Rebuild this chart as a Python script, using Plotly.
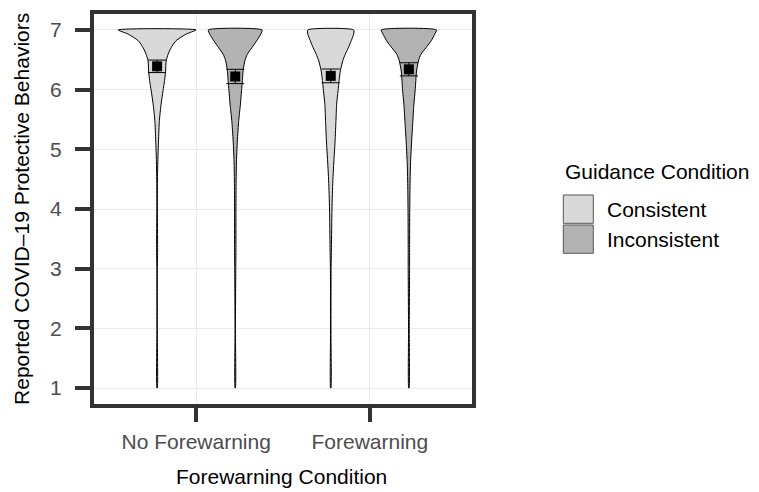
import plotly.graph_objects as go

# ---- data ----
categories = ["No Forewarning", "Forewarning"]
groups = ["Consistent", "Inconsistent"]
group_colors = {"Consistent": "#D9D9D9", "Inconsistent": "#B3B3B3"}
y_ticks = [1, 2, 3, 4, 5, 6, 7]

# density profile levels (response value) and violin half-widths (in category units)
levels = [7.0, 6.93, 6.82, 6.70, 6.59, 6.48, 6.31, 6.15, 5.98, 5.76, 5.48, 5.14,
          4.8, 4.47, 4.0, 3.35, 3.0, 2.0, 1.0]
hw_nofw_consistent = [0.224, 0.167, 0.109, 0.080, 0.063, 0.052, 0.049, 0.043, 0.034,
                      0.023, 0.013, 0.008, 0.004, 0.002, 0.0015, 0.003, 0.0015, 0.001, 0.001]
hw_nofw_inconsistent = [0.155, 0.147, 0.124, 0.095, 0.069, 0.055, 0.045, 0.041, 0.036,
                        0.030, 0.020, 0.012, 0.007, 0.005, 0.004, 0.004, 0.003, 0.001, 0.001]
hw_fw_consistent = [0.132, 0.132, 0.118, 0.101, 0.083, 0.069, 0.055, 0.048, 0.042,
                    0.034, 0.030, 0.025, 0.018, 0.012, 0.007, 0.004, 0.002, 0.001, 0.001]
hw_fw_inconsistent = [0.159, 0.149, 0.129, 0.098, 0.069, 0.055, 0.044, 0.040, 0.036,
                      0.029, 0.023, 0.016, 0.010, 0.007, 0.005, 0.004, 0.004, 0.002, 0.001]

# means and standard errors (order: NoFW-Cons, NoFW-Incons, FW-Cons, FW-Incons)
means = [6.39, 6.22, 6.23, 6.34]
ses = [0.105, 0.12, 0.115, 0.11]

violins = [
    ("No Forewarning", "Consistent", hw_nofw_consistent),
    ("No Forewarning", "Inconsistent", hw_nofw_inconsistent),
    ("Forewarning", "Consistent", hw_fw_consistent),
    ("Forewarning", "Inconsistent", hw_fw_inconsistent),
]

dodge = 0.225
FONT = "Liberation Sans, Arial, Helvetica, sans-serif"


def center_of(cat, grp):
    base = categories.index(cat) + 1
    return base + (-dodge if grp == groups[0] else dodge)


fig = go.Figure()
centers = []
for cat, grp, hw in violins:
    c = center_of(cat, grp)
    centers.append(c)
    xs = [c - w for w in hw] + [c + w for w in reversed(hw)] + [c - hw[0]]
    ys = list(levels) + list(reversed(levels)) + [levels[0]]
    fig.add_trace(go.Scatter(
        x=xs, y=ys, mode="lines", fill="toself",
        fillcolor=group_colors[grp],
        line=dict(color="black", width=1, shape="spline", smoothing=0.6),
        showlegend=False, hoverinfo="skip"))

fig.add_trace(go.Scatter(
    x=centers, y=means, mode="markers",
    marker=dict(symbol="square", size=10, color="black"),
    error_y=dict(type="data", array=ses, color="black", thickness=1, width=9),
    showlegend=False))

fig.update_xaxes(
    range=[0.4, 2.6], tickvals=[1, 2], ticktext=categories, automargin=False,
    ticks="outside", ticklen=15, tickwidth=3.5, tickcolor="#333333",
    ticklabelstandoff=2,
    showgrid=True, gridcolor="#EBEBEB", gridwidth=1, zeroline=False, showline=False,
    tickfont=dict(family=FONT, size=21, color="#4D4D4D"))
fig.update_yaxes(
    range=[0.7, 7.3], tickvals=y_ticks, automargin=False,
    ticks="outside", ticklen=16, tickwidth=3.5, tickcolor="#333333",
    ticklabelstandoff=9,
    showgrid=True, gridcolor="#EBEBEB", gridwidth=1, zeroline=False, showline=False,
    tickfont=dict(family=FONT, size=21, color="#4D4D4D"))

shapes = [dict(type="rect", xref="paper", yref="paper", x0=0, x1=1, y0=0, y1=1,
               line=dict(color="#333333", width=4), layer="above")]
annotations = [
    dict(text="Forewarning Condition", xref="paper", yref="paper", x=0.4948, y=-0.180,
         xanchor="center", yanchor="middle", showarrow=False,
         font=dict(family=FONT, size=21, color="black")),
    dict(text="Reported COVID\u201319 Protective Behaviors", xref="paper", yref="paper",
         x=-0.186, y=0.5, xanchor="center", yanchor="middle", textangle=-90, showarrow=False,
         font=dict(family=FONT, size=21, color="black")),
    dict(text="Guidance Condition", xref="paper", yref="paper",
         x=1.232, y=0.5964, xanchor="left", yanchor="middle", showarrow=False,
         font=dict(family=FONT, size=21, color="black")),
]
key_y = [(0.4637, 0.5355), (0.3876, 0.4594)]
for grp, (y0, y1) in zip(groups, key_y):
    shapes.append(dict(type="rect", xref="paper", yref="paper", x0=1.2338, x1=1.3123,
                       y0=y0, y1=y1, fillcolor=group_colors[grp],
                       line=dict(color="#555555", width=1)))
    annotations.append(dict(text=grp, xref="paper", yref="paper", x=1.343,
                            y=(y0 + y1) / 2, xanchor="left", yanchor="middle",
                            showarrow=False, font=dict(family=FONT, size=21, color="black")))

# the page body adds an 8px offset, so the figure is sized/margined to compensate
fig.update_layout(
    width=751, height=484, margin=dict(l=84, r=285, t=4, b=86, autoexpand=False),
    plot_bgcolor="white", paper_bgcolor="white",
    shapes=shapes, annotations=annotations, showlegend=False,
    font=dict(family=FONT))

fig.write_html("out.html")
